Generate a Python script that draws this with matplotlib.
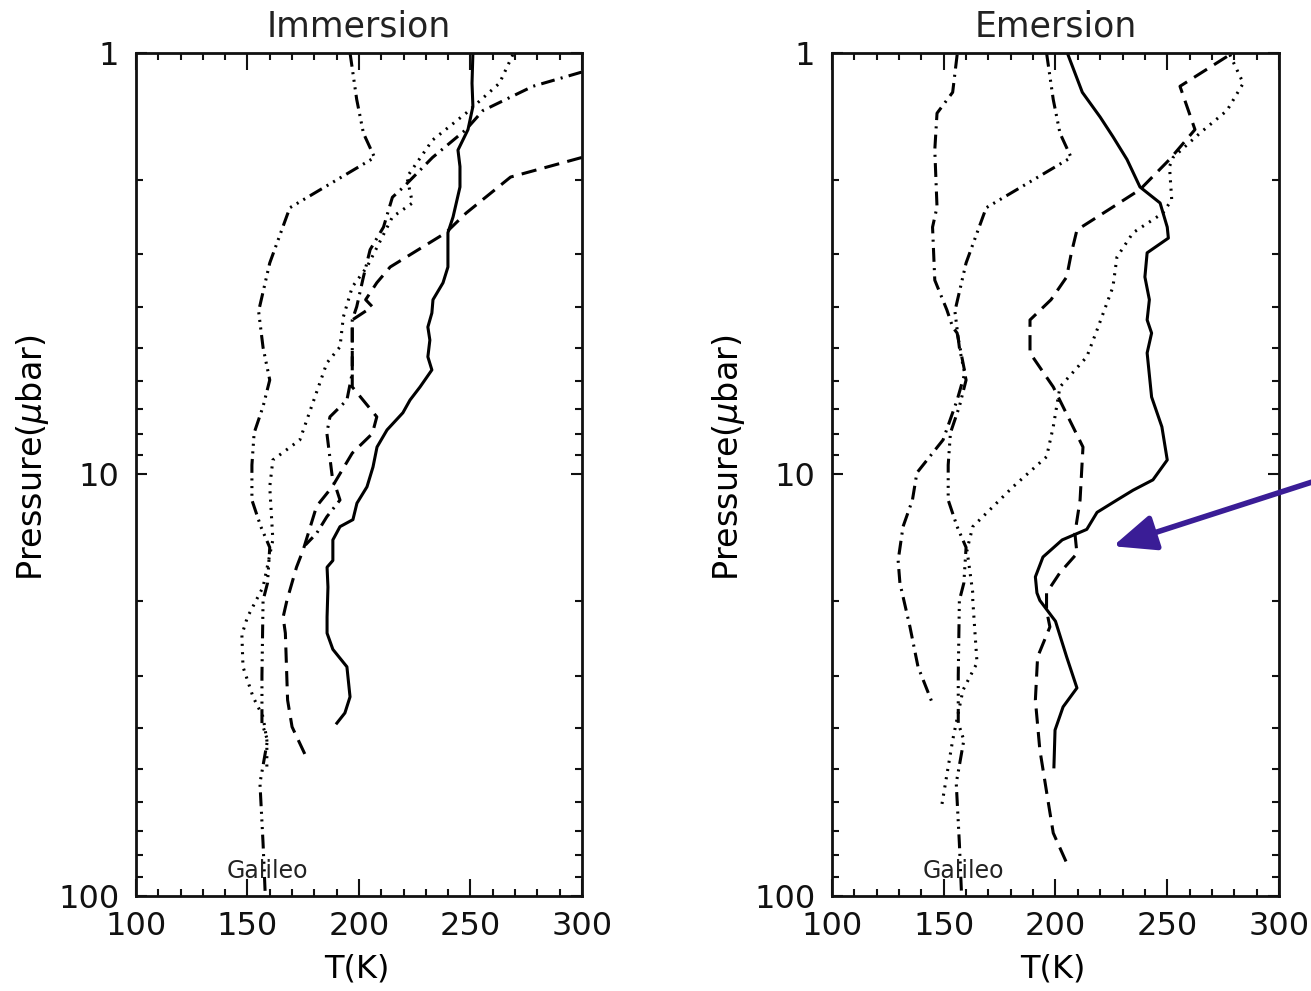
import numpy as np
import matplotlib
matplotlib.use("Agg")
import matplotlib.pyplot as plt
from matplotlib.ticker import FixedLocator, NullFormatter, FixedFormatter

plt.rcParams['font.family'] = ['DejaVu Sans']
plt.rcParams['lines.scale_dashes'] = False

# --------------------------
# Data (T in K, P in microbar)
# --------------------------
# Galileo profile, drawn in both panels
galileo_T = [196, 199, 202, 207, 169, 160, 155, 157, 160, 157, 153, 152, 152, 156,
             160, 159, 157, 156.5, 156.5, 159, 155.6, 157, 158]
galileo_P = [1.0, 1.29, 1.55, 1.77, 2.33, 3.15, 4.1, 5.0, 5.97, 6.9, 7.97, 9.5, 11.5, 13.3,
             14.9, 18.1, 19.9, 30, 38.9, 42.7, 54, 75, 100]

# Immersion
imm_solid_T = [251.1, 250.7, 251.1, 248.9, 244.4, 245.3, 245.3, 242.2, 239.9, 239.9, 237.7,
               233.2, 232.7, 230.9, 231.8, 230.9, 232.7, 227.4, 222.9, 219.7, 212.6, 208.1,
               206.3, 203.6, 199.1, 197.3, 191.5, 188.3, 188.3, 185.7, 186.1, 185.7, 185.7,
               188.3, 194.6, 196.0, 193.7, 190.1]
imm_solid_P = [1.0, 1.18, 1.34, 1.52, 1.70, 1.86, 2.08, 2.45, 2.67, 3.22, 3.51,
               3.85, 4.14, 4.47, 4.80, 5.26, 5.65, 6.20, 6.66, 7.14, 7.84, 8.61,
               9.60, 10.7, 11.7, 12.8, 13.3, 14.3, 16.0, 16.6, 18.5, 21.8, 23.8,
               26.0, 28.6, 33.7, 36.8, 38.9]

imm_dash_T = [300, 268, 248, 239, 214, 208, 203, 206, 197, 197, 208, 206, 197, 188, 181,
              175, 172, 167.7, 166, 167, 168, 170, 177]
imm_dash_P = [1.77, 1.97, 2.40, 2.67, 3.22, 3.51, 3.85, 4.0, 4.3, 6.2, 7.3, 8.0, 8.9, 10.7, 11.9,
              15.1, 16.6, 19.9, 21.8, 23.8, 34.3, 39.7, 47.6]

imm_dot_T = [269, 263, 248, 233, 221.5, 224, 215, 203.6, 197, 193, 191.5, 185.6, 173.5,
             161.4, 160, 161.4, 157, 150, 147.5, 148, 152.5, 157, 158.7, 158.7]
imm_dot_P = [1.01, 1.18, 1.39, 1.61, 1.97, 2.27, 2.45, 3.22, 3.59, 4.23, 4.98, 5.44, 8.28,
             9.24, 10.7, 14.3, 18.5, 21.8, 24, 28.6, 33.7, 37.6, 42.7, 49.4]

imm_dashdot_T = [300, 278, 255.6, 248, 233, 220, 215, 211, 205, 202, 199, 197, 197, 194.6,
                 187, 185.6, 188, 191.5, 185.6, 181, 176]
imm_dashdot_P = [1.11, 1.2, 1.37, 1.52, 1.77, 2.08, 2.20, 2.59, 2.93, 3.40, 4.0, 4.3, 5.74, 6.66,
                 7.3, 7.97, 10.1, 11.5, 12.6, 13.8, 14.7]

# Emersion
em_solid_T = [205.6, 212, 220, 225.7, 232, 237.8, 246.8, 250, 250.5, 241, 240, 242, 241, 243,
              241, 243, 247.6, 250, 243.6, 234.7, 227.5, 218.6, 214, 203, 194.4, 191, 191.7,
              193, 200, 205, 209.6, 203.4, 199.8, 199.3]
em_solid_P = [1.01, 1.24, 1.42, 1.58, 1.79, 2.08, 2.27, 2.59, 2.75, 2.98, 3.40, 3.85, 4.30, 4.62,
              5.15, 6.55, 7.71, 9.24, 10.3, 10.9, 11.5, 12.3, 13.5, 14.3, 15.7, 17.5, 19.1,
              19.9, 22.3, 27.1, 32.1, 35.6, 40.4, 49.4]

em_dash_T = [276.7, 255.7, 262.4, 251, 237.8, 225.7, 209.6, 207, 205, 198, 188.6, 188.6, 199,
             212.3, 211, 208.7, 209.6, 202, 196, 196, 197.5, 192, 191, 193, 196.6, 199, 205]
em_dash_P = [1.02, 1.2, 1.52, 1.79, 2.11, 2.32, 2.63, 3.0, 3.4, 3.85, 4.3, 5.15, 6.20,
             8.61, 11.5, 13.8, 15.4, 17.1, 19.1, 21, 23, 27.1, 34.3, 45, 59.2, 70.9, 83.5]

em_dot_T = [278, 284, 276.7, 264.6, 252.6, 251, 252, 248, 234.7, 227.5, 225.7, 218.6, 214,
            202, 199, 196, 181, 163, 160.4, 163, 163, 164.9, 158.6, 154, 149]
em_dot_P = [1.01, 1.18, 1.37, 1.55, 1.77, 1.86, 2.23, 2.40, 2.67, 3.05, 3.59, 4.54, 5.26,
            6.20, 7.71, 9.08, 10.7, 13.3, 15.1, 19.1, 19.9, 28.0, 32.5, 42.7, 61.5]

em_dashdot_T = [156, 154, 147, 146, 147, 145, 146, 151.4, 154, 156, 159.5, 156, 149.7, 138,
                136, 131.8, 129.6, 130.4, 134.9, 138.5, 145.2]
em_dashdot_P = [1.01, 1.24, 1.39, 1.70, 2.32, 2.59, 3.46, 4.07, 4.47, 4.62, 5.74, 6.66, 8.28, 9.91,
                11.5, 13.3, 16.0, 18.1, 23.0, 28.6, 35.2]

x_major = [100, 150, 200, 250, 300]
x_minor = list(range(100, 301, 10))
y_major = [1, 10, 100]
y_major_labels = ['1', '10', '100']

# --------------------------
# Styles
# --------------------------
LW = 2.2
DASHED = (0, (11, 6))
DOTTED = (0, (1.5, 4.5))
DASHDOT = (0, (10, 4.5, 1.5, 4.5))
DASH3DOT = (0, (10, 4, 1.5, 4, 1.5, 4, 1.5, 4))


def style_axes(ax, title):
    ax.set_yscale('log')
    ax.set_xlim(100, 300)
    ax.set_ylim(100, 1)
    ax.xaxis.set_major_locator(FixedLocator(x_major))
    ax.xaxis.set_minor_locator(FixedLocator(x_minor))
    ax.set_xticklabels([str(v) for v in x_major])
    ax.yaxis.set_major_locator(FixedLocator(y_major))
    ax.yaxis.set_major_formatter(FixedFormatter(y_major_labels))
    minors = [m * 10 ** d for d in range(0, 2) for m in range(2, 10)]
    ax.yaxis.set_minor_locator(FixedLocator(minors))
    ax.yaxis.set_minor_formatter(NullFormatter())
    ax.tick_params(axis='both', which='both', direction='in', top=True, right=True,
                   width=1.5, labelsize=23, colors='#111111')
    ax.tick_params(axis='x', which='major', length=12, pad=11)
    ax.tick_params(axis='x', which='minor', length=5)
    ax.tick_params(axis='y', which='major', length=8, pad=12)
    ax.tick_params(axis='y', which='minor', length=5)
    for s in ax.spines.values():
        s.set_linewidth(2)
        s.set_color('#111111')
    ax.set_title(title, fontsize=25, pad=12, color='#222222')
    ax.set_xlabel('T(K)', fontsize=23)
    ax.set_ylabel(r'Pressure($\mu$bar)', fontsize=24)
    ax.xaxis.set_label_coords(0.495, -0.068)
    ax.yaxis.set_label_coords(-0.19, 0.52)
    ax.text(159, 90.7, 'Galileo', fontsize=17, ha='center', va='baseline', color='#222222')


fig = plt.figure(figsize=(13.11, 9.91), dpi=100)
ax1 = fig.add_axes([0.1037, 0.0959, 0.3402, 0.8507])
ax2 = fig.add_axes([0.6346, 0.0959, 0.3410, 0.8507])

k = dict(color='black', lw=LW)
ax1.plot(imm_solid_T, imm_solid_P, linestyle='-', **k)
ax1.plot(imm_dash_T, imm_dash_P, linestyle=DASHED, **k)
ax1.plot(imm_dot_T, imm_dot_P, linestyle=DOTTED, **k)
ax1.plot(imm_dashdot_T, imm_dashdot_P, linestyle=DASHDOT, **k)
ax1.plot(galileo_T, galileo_P, linestyle=DASH3DOT, **k)
style_axes(ax1, 'Immersion')

ax2.plot(em_solid_T, em_solid_P, linestyle='-', **k)
ax2.plot(em_dash_T, em_dash_P, linestyle=DASHED, **k)
ax2.plot(em_dot_T, em_dot_P, linestyle=DOTTED, **k)
ax2.plot(em_dashdot_T, em_dashdot_P, linestyle=DASHDOT, **k)
ax2.plot(galileo_T, galileo_P, linestyle=DASH3DOT, **k)
style_axes(ax2, 'Emersion')

# blue arrow pointing at the emersion profile
ax2.annotate('', xy=(225.7, 14.8), xycoords='data',
             xytext=(1340, 518), textcoords='figure pixels',
             annotation_clip=False,
             arrowprops=dict(arrowstyle='-|>,head_length=1.3,head_width=0.55',
                             mutation_scale=20, lw=4, color='#3a1d96',
                             shrinkA=0, shrinkB=0))

fig.savefig('out.png', dpi=100)
